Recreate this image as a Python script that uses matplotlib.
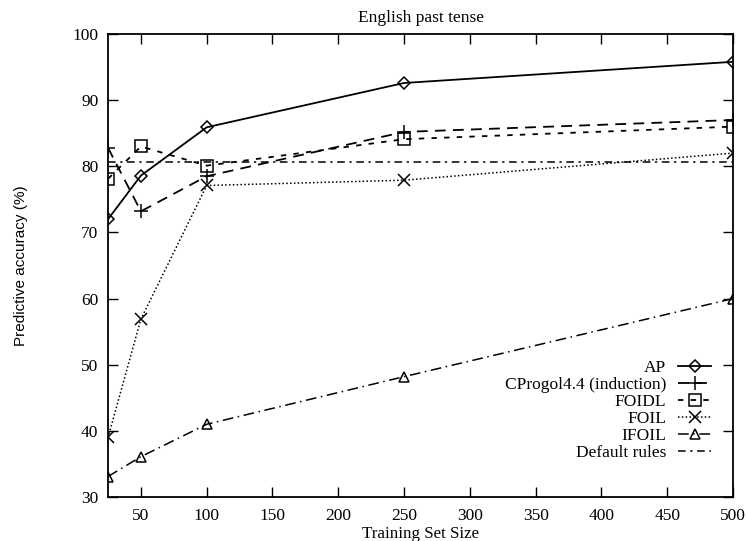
import matplotlib.pyplot as plt
import numpy as np

plt.rcParams['font.family'] = ['Liberation Serif', 'DejaVu Serif']

sizes = [25, 50, 100, 250, 500]
ap = [72, 78.6, 85.9, 92.6, 95.8]
cprogol = [82.8, 73.2, 78.5, 85.2, 87]
foidl = [78.1, 83, 80.1, 84.1, 86]
foil = [39, 56.9, 77.1, 77.9, 82]
ifoil = [33.1, 36.1, 41, 48.2, 60]
default_x = [25, 500]
default_y = [80.7, 80.7]

fig = plt.figure(figsize=(7.47, 5.41), dpi=100)
ax = fig.add_axes([0.1446, 0.0813, 0.8367, 0.8558])

ax.plot(sizes, ap, color='black', lw=1.3, ls='-', marker='D', ms=6, mfc='none', mew=1.1, label='AP')
ax.plot(sizes, cprogol, color='black', lw=1.3, ls=(0, (6, 4)), marker='+', ms=10, mew=1.1, label='CProgol4.4 (induction)')
ax.plot(sizes, foidl, color='black', lw=1.3, ls=(0, (3, 4)), marker='s', ms=8, mfc='none', mew=1.1, label='FOIDL')
ax.plot(sizes, foil, color='black', lw=1.1, ls=(0, (1, 1.5)), marker='x', ms=8, mew=1.1, label='FOIL')
ax.plot(sizes, ifoil, color='black', lw=1.1, ls=(0, (7, 3, 1, 3)), marker='^', ms=7, mfc='none', mew=1.1, label='IFOIL')
ax.plot(default_x, default_y, color='black', lw=1.1, ls=(0, (5, 3, 1.5, 3)), label='Default rules')

ax.set_xlim(25, 500)
ax.set_ylim(30, 100)
ax.set_xticks(np.arange(50, 501, 50))
ax.set_yticks(np.arange(30, 101, 10))
ax.tick_params(direction='in', top=True, right=True, length=7, width=1, labelsize=12.5, pad=7)
ax.tick_params(axis='x', pad=8)
for s in ax.spines.values():
    s.set_linewidth(1.3)

ax.set_title('English past tense', fontsize=12.5, pad=9)
ax.set_xlabel('Training Set Size', fontsize=12.2, labelpad=1)
ax.set_ylabel('Predictive accuracy (%)', fontsize=11, family=['Liberation Sans', 'DejaVu Sans'], labelpad=32)

ax.legend(loc='lower right', bbox_to_anchor=(0.979, 0.058), frameon=False, markerfirst=False,
          fontsize=12.5, handlelength=1.9, labelspacing=0.05, handletextpad=0.7, borderpad=0)

fig.savefig('out.png', dpi=100)
